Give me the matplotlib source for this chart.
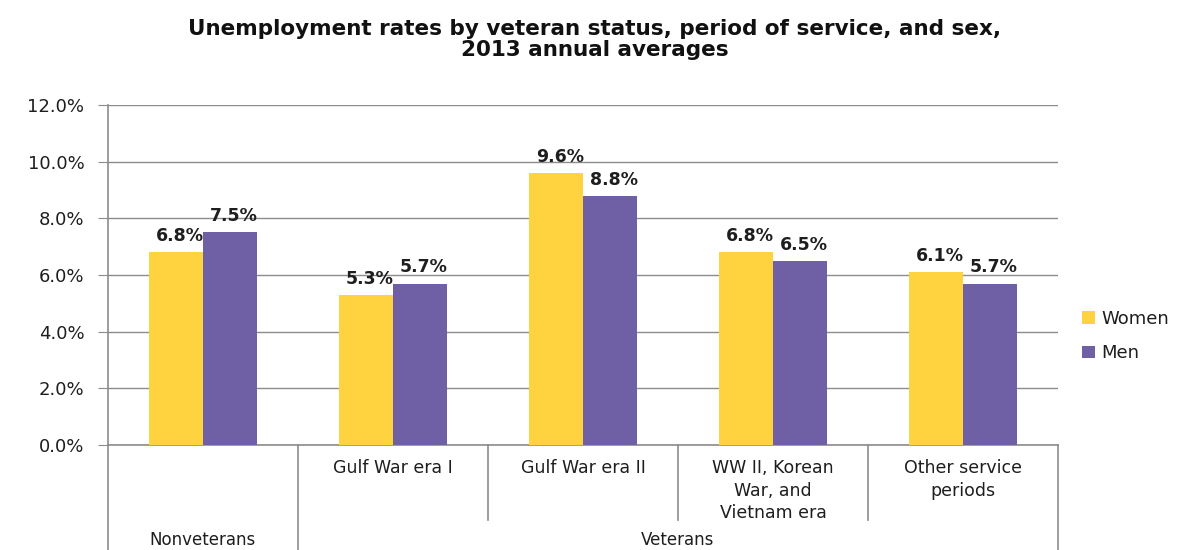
import matplotlib.pyplot as plt
import numpy as np

# Data
categories = ['', 'Gulf War era I', 'Gulf War era II',
              'WW II, Korean\nWar, and\nVietnam era', 'Other service\nperiods']
women = [6.8, 5.3, 9.6, 6.8, 6.1]
men = [7.5, 5.7, 8.8, 6.5, 5.7]
groups = ['Nonveterans', 'Veterans']
group_spans = [(0, 0), (1, 4)]
y_ticks = [0, 2, 4, 6, 8, 10, 12]

yellow = '#FFD23F'
purple = '#6F5FA4'
grey = '#8C8C8C'
txt = '#1E1E1E'

fig = plt.figure(figsize=(11.84, 5.5), dpi=100)
ax = fig.add_axes([0.0912, 0.1909, 0.8024, 0.6182])

x = np.arange(len(categories))
w = 0.285
b1 = ax.bar(x - w / 2, women, w, color=yellow, label='Women', zorder=3)
b2 = ax.bar(x + w / 2, men, w, color=purple, label='Men', zorder=3)

for bars, vals in ((b1, women), (b2, men)):
    for r, v in zip(bars, vals):
        ax.text(r.get_x() + r.get_width() / 2 + 0.02, v + 0.25, f'{v:.1f}%',
                ha='center', va='bottom', fontsize=12.5, fontweight='bold',
                color=txt, zorder=4)

ax.set_xlim(-0.5, len(categories) - 0.5)
ax.set_ylim(0, 12)
ax.set_yticks(y_ticks)
ax.set_yticklabels([f'{t:.1f}%' for t in y_ticks], fontsize=13, color=txt)
ax.yaxis.grid(True, color=grey, linewidth=1, zorder=0)
ax.tick_params(axis='y', length=7, color=grey, pad=10)
ax.set_xticks([])
for s in ('top', 'right'):
    ax.spines[s].set_visible(False)
for s in ('left', 'bottom'):
    ax.spines[s].set_color(grey)
    ax.spines[s].set_linewidth(1.2)

# multi-level category axis
tr = ax.get_xaxis_transform()
bounds = np.arange(len(categories) + 1) - 0.5
outer = {-0.5, 0.5, len(categories) - 0.5}
for bx in bounds:
    y_end = -0.309 if bx in outer else -0.22
    ax.plot([bx, bx], [0, y_end], color=grey, linewidth=1.2,
            transform=tr, clip_on=False)
for xi, lab in zip(x, categories):
    if lab:
        ax.text(xi, -0.04, lab, transform=tr, ha='center', va='top',
                fontsize=12.5, color=txt, linespacing=1.35)
for g, (a, b) in zip(groups, group_spans):
    ax.text((a + b) / 2, -0.278, g, transform=tr, ha='center', va='center',
            fontsize=12, color=txt)

ax.legend(loc='center left', bbox_to_anchor=(1.008, 0.32), frameon=False,
          fontsize=13, handlelength=0.7, handleheight=0.7, handletextpad=0.4,
          labelspacing=0.9, labelcolor=txt)

fig.suptitle('Unemployment rates by veteran status, period of service, and sex,\n'
             '2013 annual averages', x=0.502, y=0.965, fontsize=15.5,
             fontweight='bold', color='#111111', linespacing=1.05)

fig.savefig('out.png', dpi=100)
